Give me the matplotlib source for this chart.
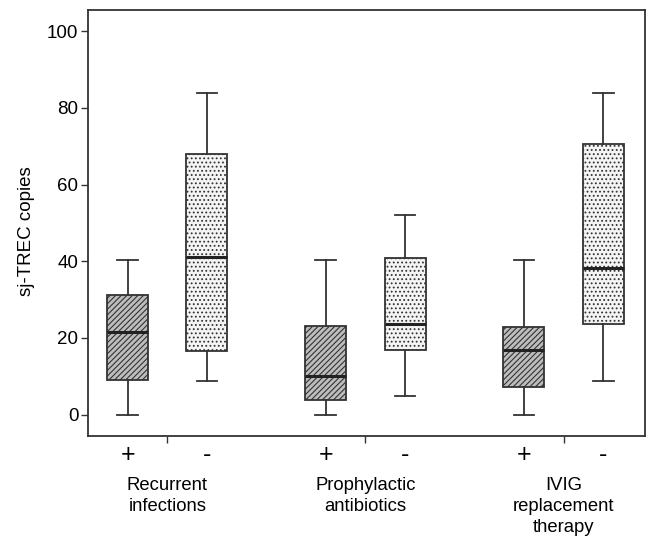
import matplotlib.pyplot as plt
import numpy as np

# data (sj-TREC copies)
groups = ["Recurrent\ninfections", "Prophylactic\nantibiotics", "IVIG\nreplacement\ntherapy"]
signs = ["+", "-"]
whislo = [0, 8.9, 0, 4.9, 0, 8.9]
q1 = [9.1, 16.7, 3.9, 16.9, 7.3, 23.7]
med = [21.6, 41.1, 10.2, 23.7, 16.9, 38.3]
q3 = [31.2, 68.0, 23.2, 40.9, 22.9, 70.6]
whishi = [40.3, 84.0, 40.3, 52.0, 40.3, 84.0]

edge = "#333333"
plt.rcParams["font.family"] = "Liberation Sans"
plt.rcParams["hatch.color"] = "#333333"
plt.rcParams["hatch.linewidth"] = 0.8

fig = plt.figure(figsize=(6.48, 5.36), dpi=100)
ax = fig.add_axes([0.136, 0.187, 0.859, 0.794])

centers = np.arange(1, len(groups) + 1)
offset = 0.2
positions = []
for c in centers:
    positions += [c - offset, c + offset]

stats = []
for i in range(len(q1)):
    stats.append(dict(whislo=whislo[i], q1=q1[i], med=med[i], q3=q3[i], whishi=whishi[i], fliers=[]))

bp = ax.bxp(stats, positions=positions, widths=0.207, patch_artist=True, showfliers=False,
            manage_ticks=False,
            boxprops=dict(edgecolor=edge, linewidth=1.3),
            medianprops=dict(color="#222222", linewidth=2.2),
            whiskerprops=dict(color=edge, linewidth=1.3),
            capprops=dict(color=edge, linewidth=1.3),
            capwidths=0.105)

for i, box in enumerate(bp["boxes"]):
    if i % 2 == 0:
        box.set_facecolor("#bdbdbd")
        box.set_hatch("//////")
    else:
        box.set_facecolor("#f4f4f4")
        box.set_hatch("....")

ax.set_xlim(0.6, 3.41)
ax.set_ylim(-5.5, 105.5)
ax.set_yticks([0, 20, 40, 60, 80, 100])
ax.tick_params(axis="y", labelsize=13.5, length=5, width=1, color=edge, pad=2)
ax.set_ylabel("sj-TREC copies", fontsize=13.5, labelpad=10)
ax.yaxis.set_label_coords(-0.095, 0.48)

ax.set_xticks(positions)
ax.set_xticklabels(signs * len(groups), fontsize=18)
ax.tick_params(axis="x", length=0, pad=5)
ax.set_xticks(centers, minor=True)
ax.tick_params(axis="x", which="minor", length=5, width=1, color=edge)

for c, g in zip(centers, groups):
    ax.text(c, -0.096, g, transform=ax.get_xaxis_transform(), ha="center", va="top",
            fontsize=13.3, linespacing=1.32)

for s in ax.spines.values():
    s.set_color(edge)
    s.set_linewidth(1.3)

fig.savefig("out.png", dpi=100)
